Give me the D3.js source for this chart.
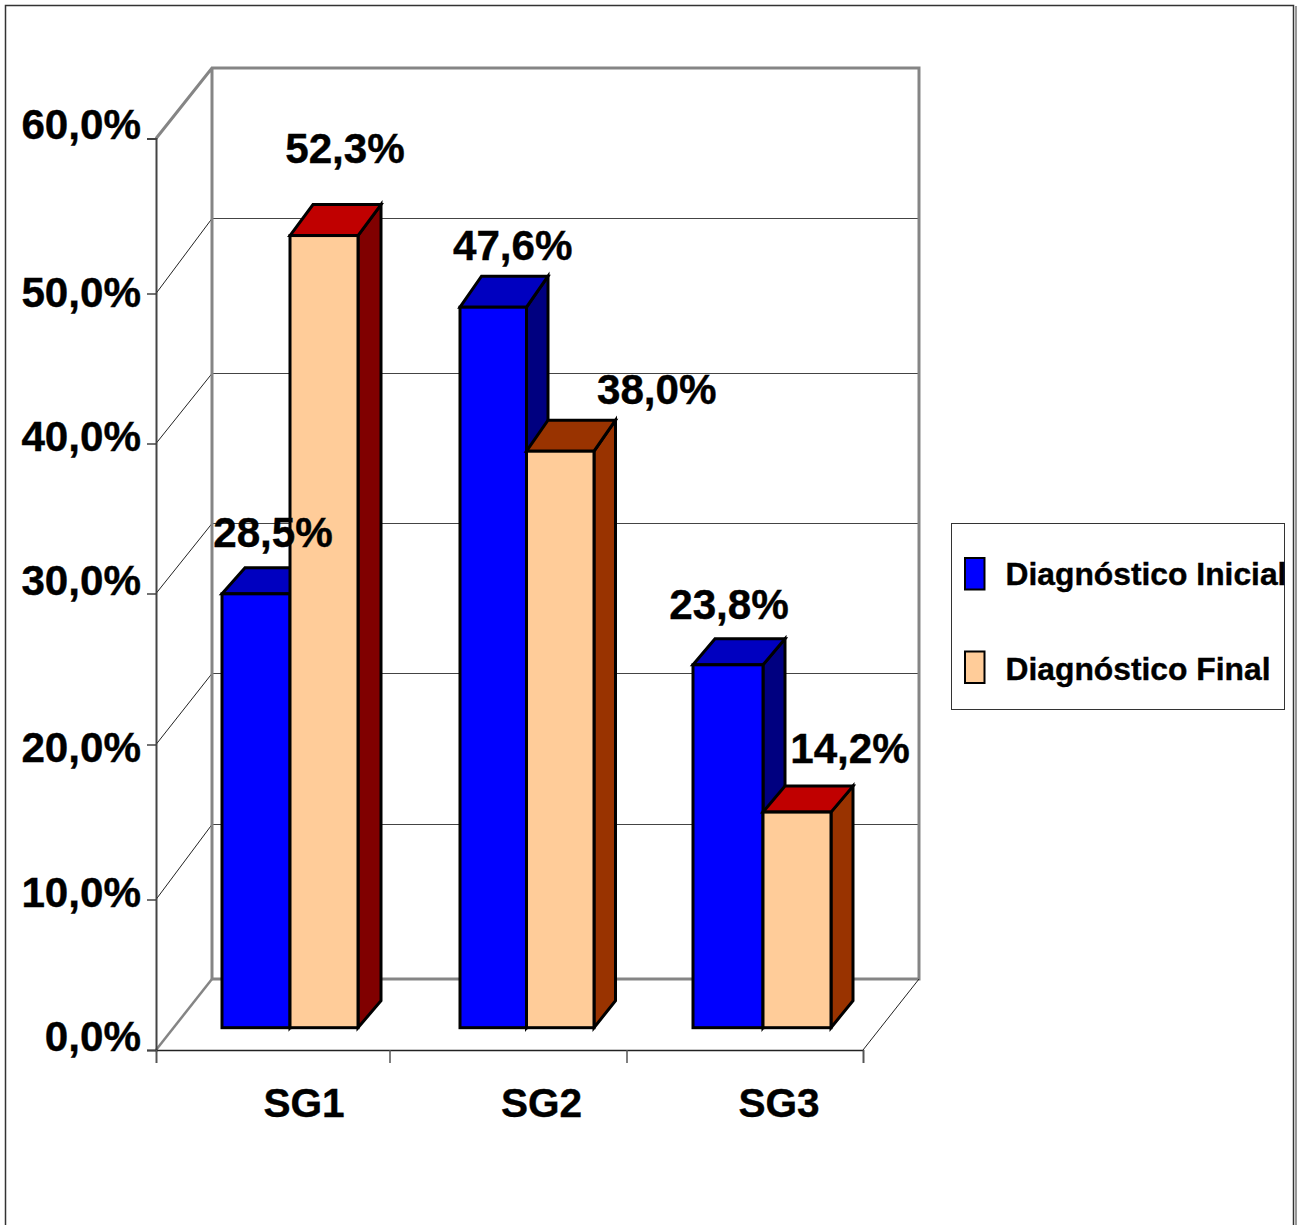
<!DOCTYPE html>
<html lang="pt">
<head>
    <meta charset="UTF-8">
    <title>Diagnóstico Inicial e Final</title>
    <script src="https://d3js.org/d3.v7.min.js"></script>
    <style>
        html, body { margin: 0; padding: 0; background: #fff; }
        svg { display: block; }
        text { font-family: "Liberation Sans", Arial, sans-serif; font-weight: bold; fill: #000; stroke: #000; stroke-width: 0.4px; }
    </style>
</head>
<body>
    <div id="chart"></div>
    <script>
        // data
        var categories = ["SG1", "SG2", "SG3"];
        var seriesNames = ["Diagnóstico Inicial", "Diagnóstico Final"];
        var inicial = [28.5, 47.6, 23.8];
        var final_ = [52.3, 38.0, 14.2];
        var yTicks = [0, 10, 20, 30, 40, 50, 60];

        // the picture's axis is not evenly spaced, so the scales go through the read positions
        var frontY = [1050, 899.5, 744.5, 593.5, 443.5, 293.5, 138.5];
        var backY = [979, 824.5, 673.5, 523.5, 373.5, 218.5, 68];
        var tickLabelY = [1050.5, 906, 761.5, 594.5, 450, 306.5, 138.5];

        // colours: front, top, side for each bar
        var frontColors = ["#0000ff", "#ffcc99"];
        var topColors = [["#0000c0", "#0000c0", "#0000c0"], ["#c00000", "#993300", "#c00000"]];
        var sideColors = [["#000080", "#000080", "#000080"], ["#800000", "#993300", "#993300"]];

        // bar shape per group
        var leftW = [68, 66.5, 70];
        var rightW = [68, 67.5, 68];
        var depthX = [23, 21.5, 22];
        var depthY = [[26, 31, 26], [31, 31, 26]];
        var floorShift = 22.3;

        // value label offsets from the front top centre of each bar
        var labelDx = [[17, 19.5, 1], [21, 96.5, 53]];
        var labelDy = [[46.7, 47.7, 46], [72.7, 47.7, 49]];

        var width = 1297, height = 1225;
        var x0 = 156, x1 = 863, wallDx = 56;

        var svg = d3.select("#chart").append("svg")
            .attr("width", width)
            .attr("height", height);

        var yFront = d3.scaleLinear().domain(yTicks).range(frontY);
        var yBack = d3.scaleLinear().domain(yTicks).range(backY);
        var yLabel = d3.scaleLinear().domain(yTicks).range(tickLabelY);
        var xMid = d3.scalePoint().domain(categories).range([290, 763]);
        var xLabel = d3.scalePoint().domain(categories).range([304, 779]);
        var xBound = d3.scaleLinear().domain([0, 1, 2, 3]).range([x0, 389.5, 626.5, x1]);

        var fmt = d3.formatLocale({ decimal: ",", thousands: ".", grouping: [3], currency: ["", ""] }).format(".1f");
        function pct(v) { return fmt(v) + "%"; }

        // outer frame, open at the bottom
        svg.append("path")
            .attr("d", "M5.5,1225V5.5H1293.5V1225")
            .attr("fill", "none")
            .attr("stroke", "#333")
            .attr("stroke-width", 1.5);
        svg.append("line")
            .attr("x1", 1296).attr("x2", 1296).attr("y1", 6).attr("y2", height)
            .attr("stroke", "#777").attr("stroke-width", 1.5);

        // back wall gridlines and the thin diagonals on the side wall
        var inner = yTicks.slice(1, -1);
        svg.selectAll(".grid").data(inner).enter().append("line")
            .attr("class", "grid")
            .attr("x1", x0 + wallDx).attr("x2", x1 + wallDx)
            .attr("y1", function(d) { return yBack(d); })
            .attr("y2", function(d) { return yBack(d); })
            .attr("stroke", "#444").attr("stroke-width", 1);
        svg.selectAll(".diag").data(inner).enter().append("line")
            .attr("class", "diag")
            .attr("x1", x0).attr("x2", x0 + wallDx)
            .attr("y1", function(d) { return yFront(d); })
            .attr("y2", function(d) { return yBack(d); })
            .attr("stroke", "#222").attr("stroke-width", 1);

        // thick grey outline of the walls
        svg.append("path")
            .attr("d", d3.line()([
                [x0, yFront(60)], [x0 + wallDx, yBack(60)], [x1 + wallDx, yBack(60)], [x1 + wallDx, yBack(0)],
                [x0 + wallDx, yBack(0)], [x0 + wallDx, yBack(60)]
            ]))
            .attr("fill", "none").attr("stroke", "#858585").attr("stroke-width", 3);
        svg.append("line")
            .attr("x1", x0).attr("x2", x0 + wallDx)
            .attr("y1", yFront(0)).attr("y2", yBack(0))
            .attr("stroke", "#858585").attr("stroke-width", 2.5);
        svg.append("line")
            .attr("x1", x1).attr("x2", x1 + wallDx)
            .attr("y1", yFront(0)).attr("y2", yBack(0))
            .attr("stroke", "#222").attr("stroke-width", 1);

        // axes
        var yAxis = svg.append("g")
            .attr("transform", "translate(" + x0 + ",0)")
            .call(d3.axisLeft(yFront).tickValues(yTicks).tickSize(9).tickPadding(6).tickFormat(pct));
        yAxis.select(".domain").attr("stroke", "#444").attr("stroke-width", 2);
        yAxis.selectAll(".tick line").attr("stroke", "#444").attr("stroke-width", 1.5);
        yAxis.selectAll(".tick text")
            .attr("dy", 0)
            .attr("y", function(d) { return yLabel(d) - yFront(d); })
            .style("font-size", "42.2px")
            .style("font-family", "'Liberation Sans', Arial, sans-serif");

        var xAxis = svg.append("g")
            .attr("transform", "translate(0," + yFront(0) + ")")
            .call(d3.axisBottom(xBound).tickValues([0, 1, 2, 3]).tickSize(13).tickFormat(""));
        xAxis.select(".domain").attr("stroke", "#222").attr("stroke-width", 1.5);
        xAxis.selectAll(".tick line").attr("stroke", "#555").attr("stroke-width", 1.5);

        svg.selectAll(".cat").data(categories).enter().append("text")
            .attr("class", "cat")
            .attr("x", function(d) { return xLabel(d); })
            .attr("y", 1116.5)
            .attr("text-anchor", "middle")
            .style("font-size", "40.6px")
            .text(function(d) { return d; });

        // build one record for each bar, group by group so that later bars cover earlier ones
        var bars = [];
        categories.forEach(function(c, i) {
            [inicial[i], final_[i]].forEach(function(v, s) {
                var mid = xMid(c);
                bars.push({
                    value: v, series: s, group: i,
                    left: s === 0 ? mid - leftW[i] : mid,
                    right: s === 0 ? mid : mid + rightW[i],
                    top: yFront(v) - floorShift,
                    bottom: yFront(0) - floorShift,
                    dx: depthX[i], dy: depthY[s][i]
                });
            });
        });

        var line = d3.line();
        var bar = svg.selectAll(".bar").data(bars).enter().append("g")
            .attr("class", "bar")
            .attr("stroke", "#000")
            .attr("stroke-width", 3)
            .attr("stroke-linejoin", "miter");
        bar.append("path")
            .attr("fill", function(d) { return sideColors[d.series][d.group]; })
            .attr("d", function(d) {
                return line([[d.right, d.top], [d.right + d.dx, d.top - d.dy], [d.right + d.dx, d.bottom - 27], [d.right, d.bottom]]) + "Z";
            });
        bar.append("path")
            .attr("fill", function(d) { return topColors[d.series][d.group]; })
            .attr("d", function(d) {
                return line([[d.left, d.top], [d.left + d.dx, d.top - d.dy], [d.right + d.dx, d.top - d.dy], [d.right, d.top]]) + "Z";
            });
        bar.append("rect")
            .attr("x", function(d) { return d.left; })
            .attr("y", function(d) { return d.top; })
            .attr("width", function(d) { return d.right - d.left; })
            .attr("height", function(d) { return d.bottom - d.top; })
            .attr("fill", function(d) { return frontColors[d.series]; });

        // value labels sit above all the bars
        svg.selectAll(".val").data(bars).enter().append("text")
            .attr("class", "val")
            .attr("x", function(d) { return (d.left + d.right) / 2 + labelDx[d.series][d.group]; })
            .attr("y", function(d) { return d.top - labelDy[d.series][d.group]; })
            .attr("text-anchor", "middle")
            .style("font-size", "42.2px")
            .text(function(d) { return pct(d.value); });

        // legend
        var legend = svg.append("g");
        legend.append("rect")
            .attr("x", 951.5).attr("y", 523.5).attr("width", 333).attr("height", 186)
            .attr("fill", "#fff").attr("stroke", "#333").attr("stroke-width", 1);
        var legendY = d3.scalePoint().domain(seriesNames).range([574, 667.5]);
        var item = legend.selectAll(".item").data(seriesNames).enter().append("g")
            .attr("class", "item")
            .attr("transform", function(d) { return "translate(0," + legendY(d) + ")"; });
        item.append("rect")
            .attr("x", 965).attr("y", -16).attr("width", 19.5).attr("height", 31.5)
            .attr("fill", function(d, i) { return frontColors[i]; })
            .attr("stroke", "#000").attr("stroke-width", 2);
        item.append("text")
            .attr("x", 1005.5)
            .attr("y", function(d, i) { return i === 0 ? 11 : 12.5; })
            .style("font-size", "31.8px")
            .text(function(d) { return d; });
    </script>
</body>
</html>
